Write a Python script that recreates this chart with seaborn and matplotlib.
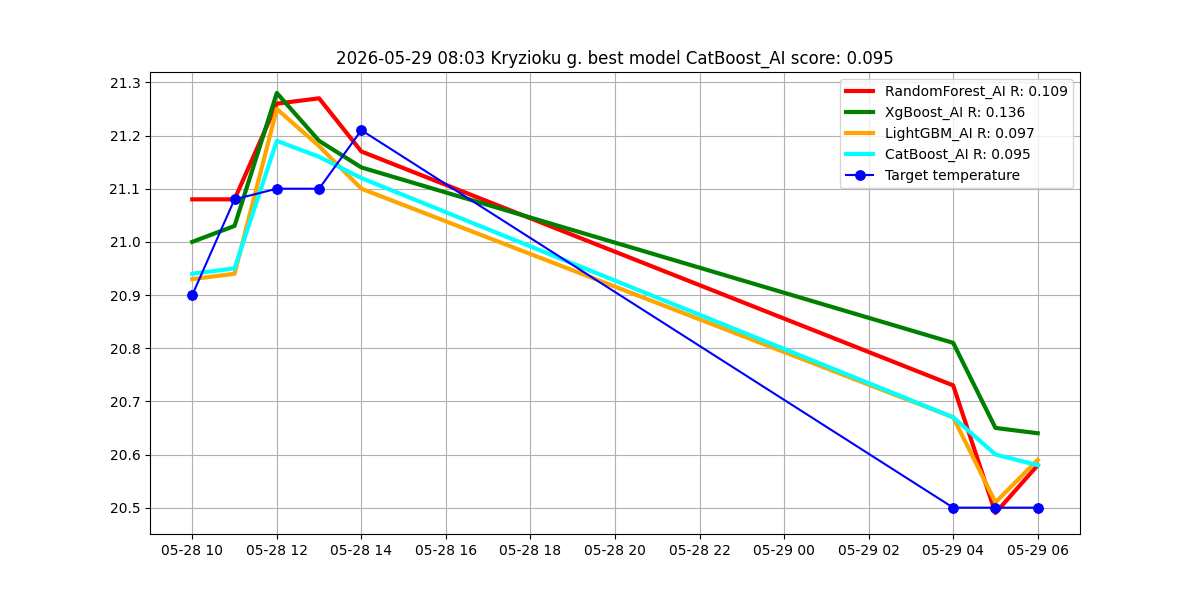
import pandas as pd
import matplotlib
matplotlib.use("Agg")
import matplotlib.pyplot as plt
import matplotlib.dates as mdates
import seaborn as sns

times = pd.to_datetime([
    "2026-05-28 10:00", "2026-05-28 11:00", "2026-05-28 12:00", "2026-05-28 13:00",
    "2026-05-28 14:00", "2026-05-29 04:00", "2026-05-29 05:00", "2026-05-29 06:00",
])
random_forest = [21.08, 21.08, 21.26, 21.27, 21.17, 20.73, 20.49, 20.58]
xgboost = [21.00, 21.03, 21.28, 21.19, 21.14, 20.81, 20.65, 20.64]
lightgbm = [20.93, 20.94, 21.25, 21.18, 21.10, 20.67, 20.51, 20.59]
catboost = [20.94, 20.95, 21.19, 21.16, 21.12, 20.67, 20.60, 20.58]
target = [20.90, 21.08, 21.10, 21.10, 21.21, 20.50, 20.50, 20.50]

models = [
    ("RandomForest_AI R: 0.109", random_forest, "red"),
    ("XgBoost_AI R: 0.136", xgboost, "green"),
    ("LightGBM_AI R: 0.097", lightgbm, "orange"),
    ("CatBoost_AI R: 0.095", catboost, "cyan"),
]

fig, ax = plt.subplots(figsize=(12, 6), dpi=100)
for label, vals, color in models:
    sns.lineplot(x=times, y=vals, ax=ax, color=color, linewidth=3, label=label)
sns.lineplot(x=times, y=target, ax=ax, color="blue", linewidth=1.5, marker="o",
             markersize=7, markeredgecolor="blue", label="Target temperature")

ax.xaxis.set_major_locator(mdates.HourLocator(byhour=range(0, 24, 2)))
ax.xaxis.set_major_formatter(mdates.DateFormatter("%m-%d %H"))
ax.grid(True)
ax.set_xlabel("")
ax.set_ylabel("")
ax.set_title("2026-05-29 08:03 Kryzioku g. best model CatBoost_AI score: 0.095")
ax.legend(loc="upper right")
fig.savefig("out.png")
